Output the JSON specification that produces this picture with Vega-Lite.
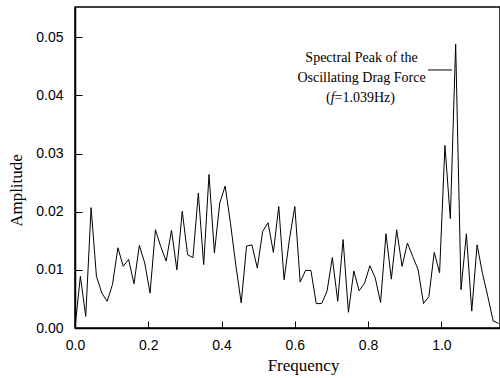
{
  "$schema": "https://vega.github.io/schema/vega-lite/v6.json",
  "width": 425,
  "height": 321,
  "autosize": "none",
  "padding": {"left": 75, "top": 7, "right": 0, "bottom": 50},
  "background": "white",
  "config": {
    "view": {"stroke": "black", "strokeWidth": 1.5},
    "axis": {
      "grid": false,
      "labelFont": "Liberation Sans",
      "labelFontSize": 14,
      "labelColor": "black",
      "labelFlush": false,
      "labelOverlap": false,
      "titleFont": "Liberation Serif",
      "titleFontSize": 17,
      "titleFontWeight": "normal",
      "titleColor": "black",
      "domainColor": "black",
      "domainWidth": 1.5,
      "tickColor": "black",
      "tickWidth": 1
    }
  },
  "layer": [
    {
      "data": {"values": [
        {"x": 0, "y": 0}, {"x": 0.0146, "y": 0.0089}, {"x": 0.0293, "y": 0.0020}, {"x": 0.0439, "y": 0.0207},
        {"x": 0.0585, "y": 0.0089}, {"x": 0.0732, "y": 0.0060}, {"x": 0.0878, "y": 0.0046}, {"x": 0.1024, "y": 0.0075},
        {"x": 0.1171, "y": 0.0138}, {"x": 0.1317, "y": 0.0106}, {"x": 0.1463, "y": 0.0118}, {"x": 0.1610, "y": 0.0076},
        {"x": 0.1756, "y": 0.0142}, {"x": 0.1902, "y": 0.0112}, {"x": 0.2049, "y": 0.0060}, {"x": 0.2195, "y": 0.0169},
        {"x": 0.2341, "y": 0.0140}, {"x": 0.2488, "y": 0.0115}, {"x": 0.2634, "y": 0.0168}, {"x": 0.2780, "y": 0.0100},
        {"x": 0.2927, "y": 0.0201}, {"x": 0.3073, "y": 0.0126}, {"x": 0.3219, "y": 0.0121}, {"x": 0.3366, "y": 0.0232},
        {"x": 0.3512, "y": 0.0109}, {"x": 0.3658, "y": 0.0264}, {"x": 0.3805, "y": 0.0129}, {"x": 0.3951, "y": 0.0215},
        {"x": 0.4098, "y": 0.0244}, {"x": 0.4244, "y": 0.0180}, {"x": 0.4390, "y": 0.0108}, {"x": 0.4537, "y": 0.0043},
        {"x": 0.4683, "y": 0.0141}, {"x": 0.4829, "y": 0.0143}, {"x": 0.4976, "y": 0.0103}, {"x": 0.5122, "y": 0.0166},
        {"x": 0.5268, "y": 0.0181}, {"x": 0.5415, "y": 0.0130}, {"x": 0.5561, "y": 0.0209}, {"x": 0.5707, "y": 0.0083},
        {"x": 0.5854, "y": 0.0153}, {"x": 0.6000, "y": 0.0209}, {"x": 0.6146, "y": 0.0079}, {"x": 0.6293, "y": 0.0099},
        {"x": 0.6439, "y": 0.0099}, {"x": 0.6585, "y": 0.0042}, {"x": 0.6732, "y": 0.0042}, {"x": 0.6878, "y": 0.0063},
        {"x": 0.7024, "y": 0.0121}, {"x": 0.7171, "y": 0.0046}, {"x": 0.7317, "y": 0.0152}, {"x": 0.7463, "y": 0.0027},
        {"x": 0.7610, "y": 0.0098}, {"x": 0.7756, "y": 0.0064}, {"x": 0.7902, "y": 0.0077}, {"x": 0.8049, "y": 0.0107},
        {"x": 0.8195, "y": 0.0086}, {"x": 0.8341, "y": 0.0044}, {"x": 0.8488, "y": 0.0162}, {"x": 0.8634, "y": 0.0084},
        {"x": 0.8780, "y": 0.0169}, {"x": 0.8927, "y": 0.0106}, {"x": 0.9073, "y": 0.0146}, {"x": 0.9219, "y": 0.0123},
        {"x": 0.9366, "y": 0.0100}, {"x": 0.9512, "y": 0.0042}, {"x": 0.9658, "y": 0.0054}, {"x": 0.9805, "y": 0.0130},
        {"x": 0.9951, "y": 0.0095}, {"x": 1.0097, "y": 0.0314}, {"x": 1.0244, "y": 0.0188}, {"x": 1.0390, "y": 0.0488},
        {"x": 1.0536, "y": 0.0066}, {"x": 1.0683, "y": 0.0162}, {"x": 1.0829, "y": 0.0029}, {"x": 1.0975, "y": 0.0143},
        {"x": 1.1122, "y": 0.0094}, {"x": 1.1268, "y": 0.0054}, {"x": 1.1414, "y": 0.0012}, {"x": 1.1561, "y": 0.0008}
      ]},
      "mark": {"type": "line", "color": "black", "strokeWidth": 1, "clip": true},
      "encoding": {
        "x": {
          "field": "x", "type": "quantitative",
          "scale": {"domain": [0, 1.16], "nice": false, "zero": false},
          "axis": {
            "title": "Frequency",
            "values": [0, 0.1, 0.2, 0.3, 0.4, 0.5, 0.6, 0.7, 0.8, 0.9, 1.0, 1.1],
            "labelExpr": "round(datum.value * 10) % 2 == 0 ? format(datum.value, '.1f') : ''",
            "tickSize": -7,
            "labelPadding": 17,
            "titleX": 228,
            "titleY": 42,
            "titleBaseline": "alphabetic",
            "encode": {"ticks": {"update": {"y2": {"signal": "round(datum.value * 10) % 2 == 0 ? -7 : -4"}}}}
          }
        },
        "y": {
          "field": "y", "type": "quantitative",
          "scale": {"domain": [0, 0.0552], "nice": false, "zero": false},
          "axis": {
            "title": "Amplitude",
            "values": [0, 0.005, 0.01, 0.015, 0.02, 0.025, 0.03, 0.035, 0.04, 0.045, 0.05],
            "labelExpr": "round(datum.value * 200) % 2 == 0 ? format(datum.value, '.2f') : ''",
            "tickSize": -7,
            "labelPadding": 19,
            "titleX": -54,
            "titleY": 183,
            "titleBaseline": "alphabetic",
            "encode": {"ticks": {"update": {"x2": {"signal": "round(datum.value * 200) % 2 == 0 ? 7 : 4"}}}}
          }
        }
      }
    },
    {
      "data": {"values": [{"x": 0.9635, "x2": 1.029, "y": 0.04437}]},
      "mark": {"type": "rule", "color": "black", "strokeWidth": 1},
      "encoding": {
        "x": {"field": "x", "type": "quantitative"},
        "x2": {"field": "x2"},
        "y": {"field": "y", "type": "quantitative"}
      }
    },
    {
      "data": {"values": [
        {"x": 0.7821, "y": 0.04574, "label": "Spectral Peak of the"},
        {"x": 0.7821, "y": 0.0423, "label": "Oscillating Drag Force"}
      ]},
      "mark": {"type": "text", "font": "Liberation Serif", "fontSize": 14, "color": "black", "align": "center", "baseline": "alphabetic"},
      "encoding": {
        "x": {"field": "x", "type": "quantitative"},
        "y": {"field": "y", "type": "quantitative"},
        "text": {"field": "label"}
      }
    },
    {
      "data": {"values": [{"x": 0.7086, "y": 0.03886, "label": "("}]},
      "mark": {"type": "text", "font": "Liberation Serif", "fontSize": 14, "color": "black", "align": "right", "baseline": "alphabetic", "dx": -4},
      "encoding": {
        "x": {"field": "x", "type": "quantitative"},
        "y": {"field": "y", "type": "quantitative"},
        "text": {"field": "label"}
      }
    },
    {
      "data": {"values": [{"x": 0.7086, "y": 0.03886, "label": "f"}]},
      "mark": {"type": "text", "font": "Liberation Serif", "fontSize": 14, "fontStyle": "italic", "color": "black", "align": "right", "baseline": "alphabetic"},
      "encoding": {
        "x": {"field": "x", "type": "quantitative"},
        "y": {"field": "y", "type": "quantitative"},
        "text": {"field": "label"}
      }
    },
    {
      "data": {"values": [{"x": 0.7086, "y": 0.03886, "label": "=1.039Hz)"}]},
      "mark": {"type": "text", "font": "Liberation Serif", "fontSize": 14, "color": "black", "align": "left", "baseline": "alphabetic"},
      "encoding": {
        "x": {"field": "x", "type": "quantitative"},
        "y": {"field": "y", "type": "quantitative"},
        "text": {"field": "label"}
      }
    }
  ]
}
